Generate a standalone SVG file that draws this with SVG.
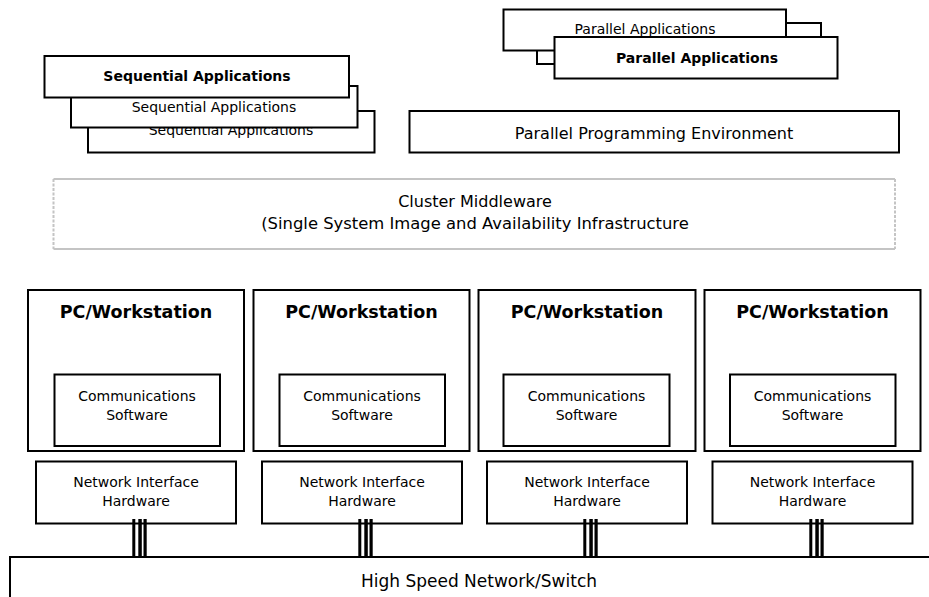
<svg xmlns="http://www.w3.org/2000/svg" width="929" height="597" viewBox="0 0 929 597">
<style>
.box{fill:#fff;stroke:#000;stroke-width:2}
.t{font-family:"DejaVu Sans","Verdana",sans-serif;font-size:14px;fill:#000;text-anchor:middle}
.b{font-weight:bold}
.big{font-size:16px}
.pc{font-size:17.5px;font-weight:bold}
.mw{stroke:#c4c4c4;stroke-width:2;fill:none}
.bar{fill:#000}
</style>
<defs>
<g id="tri">
<rect class="bar" x="0" y="519" width="3" height="38"/>
<rect class="bar" x="6" y="519" width="3.5" height="38"/>
<rect class="bar" x="11.2" y="519" width="3.2" height="38"/>
</g>
</defs>
<rect width="929" height="597" fill="#fff"/>

<g id="seq-apps">
<rect class="box" x="88" y="111" width="286.5" height="41.5"/>
<text class="t" x="231" y="135">Sequential Applications</text>
<rect class="box" x="71" y="86" width="286.5" height="41.5"/>
<text class="t" x="214" y="112">Sequential Applications</text>
<rect class="box" x="44.5" y="56" width="304.5" height="41.5"/>
<text class="t b" x="197" y="81">Sequential Applications</text>
</g>

<g id="par-apps">
<rect class="box" x="537" y="23" width="284" height="41"/>
<rect class="box" x="503.5" y="9.5" width="282.5" height="41"/>
<text class="t" x="645" y="34">Parallel Applications</text>
<rect class="box" x="554.5" y="37" width="283" height="41.5"/>
<text class="t b" x="697" y="63">Parallel Applications</text>
</g>

<g id="ppe">
<rect class="box" x="409.5" y="111" width="489.5" height="41.5"/>
<text class="t big" x="654" y="139">Parallel Programming Environment</text>
</g>

<g id="middleware">
<rect x="53.5" y="179" width="841.5" height="70" fill="#fff"/>
<line class="mw" x1="53.5" y1="179" x2="895" y2="179"/>
<line class="mw" x1="53.5" y1="249" x2="895" y2="249"/>
<line class="mw" x1="53.5" y1="179" x2="53.5" y2="249" stroke-dasharray="3 1.5"/>
<line class="mw" x1="895" y1="179" x2="895" y2="249" stroke-dasharray="3 1.5"/>
<text class="t big" x="475" y="207">Cluster Middleware</text>
<text class="t" style="font-size:16.4px" x="475" y="229">(Single System Image and Availability Infrastructure</text>
</g>

<g id="pc1">
<rect class="box" x="28" y="290" width="216" height="161"/>
<text class="t pc" x="136" y="318">PC/Workstation</text>
<rect class="box" x="54.5" y="374.5" width="165.5" height="71.5"/>
<text class="t" x="137" y="401">Communications</text>
<text class="t" x="137" y="420">Software</text>
</g>
<g id="pc2">
<rect class="box" x="253.5" y="290" width="216" height="161"/>
<text class="t pc" x="361.5" y="318">PC/Workstation</text>
<rect class="box" x="279.5" y="374.5" width="165.5" height="71.5"/>
<text class="t" x="362" y="401">Communications</text>
<text class="t" x="362" y="420">Software</text>
</g>
<g id="pc3">
<rect class="box" x="478.5" y="290" width="217" height="161"/>
<text class="t pc" x="587" y="318">PC/Workstation</text>
<rect class="box" x="503.5" y="374.5" width="166" height="71.5"/>
<text class="t" x="586.5" y="401">Communications</text>
<text class="t" x="586.5" y="420">Software</text>
</g>
<g id="pc4">
<rect class="box" x="704.5" y="290" width="216" height="161"/>
<text class="t pc" x="812.5" y="318">PC/Workstation</text>
<rect class="box" x="730" y="374.5" width="165.5" height="71.5"/>
<text class="t" x="812.5" y="401">Communications</text>
<text class="t" x="812.5" y="420">Software</text>
</g>

<g id="nic1">
<rect class="box" x="36" y="461.5" width="200" height="62"/>
<text class="t" x="136" y="487">Network Interface</text>
<text class="t" x="136" y="506">Hardware</text>
</g>
<g id="nic2">
<rect class="box" x="262" y="461.5" width="200" height="62"/>
<text class="t" x="362" y="487">Network Interface</text>
<text class="t" x="362" y="506">Hardware</text>
</g>
<g id="nic3">
<rect class="box" x="487" y="461.5" width="200" height="62"/>
<text class="t" x="587" y="487">Network Interface</text>
<text class="t" x="587" y="506">Hardware</text>
</g>
<g id="nic4">
<rect class="box" x="712.5" y="461.5" width="200" height="62"/>
<text class="t" x="812.5" y="487">Network Interface</text>
<text class="t" x="812.5" y="506">Hardware</text>
</g>

<g id="network">
<rect class="box" x="10" y="557" width="940" height="60"/>
<text class="t" style="font-size:17px" x="479" y="587">High Speed Network/Switch</text>
</g>

<g id="connectors">
<use href="#tri" x="132.3"/>
<use href="#tri" x="358.3"/>
<use href="#tri" x="583.3"/>
<use href="#tri" x="809.3"/>
</g>
</svg>
